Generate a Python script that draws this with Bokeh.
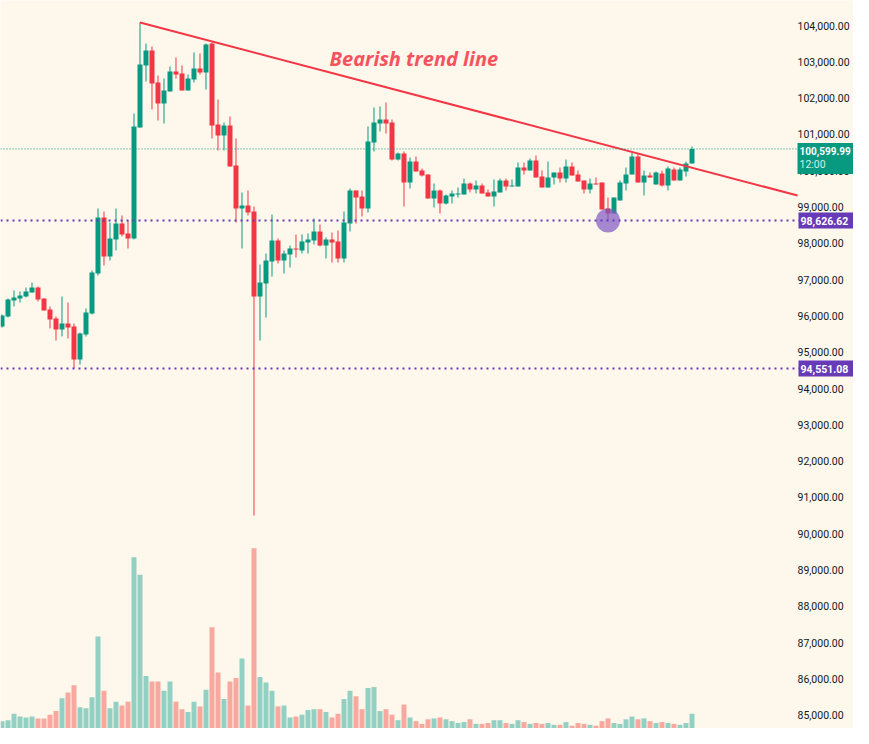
from bokeh.plotting import figure
from bokeh.models import Range1d, FixedTicker, NumeralTickFormatter, Label, Span, LinearAxis, BoxAnnotation
from bokeh.embed import file_html
from bokeh.resources import INLINE
from bokeh.core.properties import value

BG = "#FEF7EB"
UP = "#089981"
DOWN = "#F23645"
VOL_UP = "#92D0C3"
VOL_DOWN = "#F7A9A0"
PURPLE = "#673AB7"

opens = [
    95708, 95983, 96424, 96479, 96534, 96645, 96782, 96479, 96176, 95928,
    95625, 95791, 95708, 94799, 95488, 96066, 97168, 98711, 97637, 98105,
    98545, 98270, 98132, 101190, 102898, 103311, 102430, 101851, 102182, 102733,
    102678, 102209, 102513, 102816, 102705, 103504, 101273, 100970, 101245, 100143,
    98959, 99041, 98876, 96534, 96892, 97499, 98077, 97526, 97692, 97857,
    97802, 98022, 98077, 98325, 97939, 98105, 98050, 97581, 98545, 99455,
    99289, 98959, 100777, 101300, 101411, 101328, 100309, 100474, 99675, 100253,
    100005, 99895, 99234, 99455, 99096, 99289, 99344, 99344, 99647, 99482,
    99592, 99400, 99289, 99400, 99730, 99565, 99565, 100088, 100005, 100281,
    99840, 99537, 99813, 99950, 99785, 100116, 99895, 99730, 99482, 99647,
    99675, 98959, 98821, 99179, 99647, 99895, 100391, 99675, 99868, 99620,
    99923, 99592, 100033, 99730, 99978, 100198,
]
highs = [
    96038, 96479, 96700, 96672, 96782, 96920, 96810, 96479, 96259, 95983,
    96534, 96369, 95791, 95543, 96204, 97251, 98959, 98876, 98573, 98959,
    98766, 98627, 101576, 104083, 103504, 103421, 102623, 102540, 102871, 103118,
    102898, 102650, 103256, 103229, 103504, 103532, 101961, 101328, 101493, 100887,
    99400, 99455, 99014, 97416, 97719, 98793, 98132, 97802, 97939, 98242,
    98242, 98270, 98683, 98518, 98160, 98298, 98353, 98876, 99510, 99455,
    99455, 101218, 101741, 101769, 101878, 101411, 100501, 100529, 100364, 100391,
    100061, 99895, 99647, 99482, 99344, 99455, 99537, 99785, 99675, 99730,
    99647, 99482, 99758, 99785, 99785, 99758, 100226, 100226, 100336, 100419,
    100005, 100253, 99950, 100088, 100309, 100226, 100005, 99730, 99785, 99813,
    99675, 99262, 99262, 99730, 100088, 100501, 100474, 100005, 99950, 99978,
    100005, 100116, 100088, 100088, 100253, 100667,
]
lows = [
    95681, 95956, 96259, 96369, 96507, 96645, 96397, 96149, 95653, 95322,
    95433, 95377, 94551.08, 94661, 95433, 96038, 97113, 97388, 97526, 97802,
    98187, 97857, 98105, 101190, 102457, 101686, 101383, 101300, 102182, 102540,
    102209, 102209, 102430, 102650, 102237, 100887, 100557, 100557, 100116, 98573,
    97857, 98766, 90501, 95322, 95956, 97085, 97444, 97168, 97333, 97609,
    97719, 97719, 97967, 97912, 97581, 97471, 97471, 97471, 98325, 98545,
    98738, 98848, 100529, 101080, 101025, 100281, 100281, 99014, 99510, 99978,
    99840, 99234, 98986, 98821, 99069, 99096, 99262, 99344, 99400, 99372,
    99372, 99289, 99014, 99400, 99455, 99565, 99565, 99895, 100005, 99813,
    99537, 99537, 99620, 99675, 99675, 99868, 99703, 99372, 99372, 99620,
    98931, 98626.62, 98821, 99179, 99455, 99895, 99675, 99317, 99813, 99620,
    99565, 99455, 99730, 99730, 99840, 100198,
]
closes = [
    96011, 96452, 96507, 96562, 96672, 96782, 96452, 96149, 95901, 95625,
    95791, 95681, 94799, 95515, 96094, 97196, 98711, 97637, 98132, 98545,
    98242, 98132, 101218, 102926, 103311, 102402, 101851, 102209, 102733, 102650,
    102209, 102540, 102816, 102705, 103477, 101245, 100970, 101245, 100116, 98959,
    99041, 98848, 96534, 96920, 97526, 98077, 97526, 97719, 97857, 97829,
    98050, 98105, 98325, 97939, 98105, 98022, 97581, 98573, 99455, 99262,
    98959, 100804, 101328, 101411, 101300, 100309, 100474, 99675, 100253, 99978,
    99868, 99234, 99455, 99096, 99317, 99372, 99372, 99647, 99482, 99592,
    99372, 99289, 99427, 99730, 99565, 99592, 100088, 100005, 100281, 99813,
    99537, 99813, 99950, 99785, 100116, 99868, 99703, 99482, 99647, 99620,
    98931, 98821, 99262, 99675, 99895, 100391, 99675, 99868, 99813, 99950,
    99592, 100061, 99730, 100033, 100198, 100599.99,
]
volumes = [
    320, 360, 640, 520, 480, 520, 440, 440, 600, 760,
    1320, 1560, 1880, 920, 880, 1360, 4000, 1640, 880, 1160,
    1000, 1160, 7440, 6680, 2280, 2040, 2040, 1640, 2040, 1160,
    840, 720, 1160, 960, 1680, 4400, 2440, 1280, 2040, 2200,
    3040, 1000, 7840, 2240, 2000, 1640, 960, 1000, 480, 520,
    600, 800, 840, 840, 720, 480, 640, 1280, 1640, 1400,
    840, 1760, 1800, 760, 840, 600, 360, 1040, 480, 320,
    200, 400, 440, 480, 400, 320, 240, 280, 400, 200,
    200, 240, 360, 360, 240, 200, 360, 280, 200, 240,
    200, 240, 160, 160, 280, 120, 240, 200, 160, 120,
    320, 440, 240, 200, 400, 520, 400, 440, 320, 240,
    280, 240, 200, 160, 240, 640,
]
tick_values = [85000, 86000, 87000, 88000, 89000, 90000, 91000, 92000, 93000, 94000,
               95000, 96000, 97000, 98000, 99000, 100000, 101000, 102000, 103000, 104000]

last_price = 100599.99
last_time = "12:00"
support_level = 98626.62
low_level = 94551.08
trend_start = (23, 104083)
trend_end = (132.6, 99317)
trend_text = "Bearish trend line"
trend_text_pos = (54.6, 103080)
touch_point = (101, 98626.62)

W, H = 853, 728
Y0, Y1 = 84634, 104689
upp = (Y1 - Y0) / H  # price units per pixel

n = len(opens)
idx = list(range(n))
inc = [c >= o for o, c in zip(opens, closes)]
body_top = [max(o, c) for o, c in zip(opens, closes)]
body_bot = [min(o, c) for o, c in zip(opens, closes)]
ccol = [UP if u else DOWN for u in inc]
vcol = [VOL_UP if u else VOL_DOWN for u in inc]

p = figure(width=W, height=H,
           x_range=Range1d(-0.25, 141.92), y_range=Range1d(Y0, Y1),
           output_backend="svg", toolbar_location=None,
           x_axis_location=None, y_axis_location=None,
           background_fill_color=BG, border_fill_color=BG,
           outline_line_color=None, min_border=0)
p.grid.visible = False

p.extra_y_ranges = {"vol": Range1d(0, 31650)}
p.vbar(x=idx, width=0.83, top=volumes, bottom=0, y_range_name="vol",
       fill_color=vcol, line_color=None)

p.segment(x0=idx, y0=highs, x1=idx, y1=lows, line_color=ccol, line_width=1)
p.vbar(x=idx, width=0.83, top=body_top, bottom=body_bot, fill_color=ccol, line_color=None)

p.add_layout(Span(location=last_price, dimension="width", line_color=UP,
                  line_dash="1 2", line_width=1))
for lv in (support_level, low_level):
    p.add_layout(Span(location=lv, dimension="width", line_color=PURPLE,
                      line_dash="2 4", line_width=2))

p.segment(x0=[trend_start[0]], y0=[trend_start[1]], x1=[trend_end[0]], y1=[trend_end[1]],
          line_color=DOWN, line_width=2)
p.text(x=[trend_text_pos[0]], y=[trend_text_pos[1]], text=[trend_text],
       text_font=value("Open Sans"), text_font_style="bold italic",
       text_font_size="20px", text_color="#F4535E", text_baseline="middle")
p.scatter(x=[touch_point[0]], y=[touch_point[1]], size=24, fill_color="#7E57C2",
          fill_alpha=0.7, line_color=None)

ax = LinearAxis(fixed_location=132.42)
ax.ticker = FixedTicker(ticks=tick_values)
ax.formatter = NumeralTickFormatter(format="0,0.00")
ax.axis_line_color = None
ax.major_tick_line_color = None
ax.minor_tick_line_color = None
ax.major_tick_out = 0
ax.major_tick_in = 0
ax.minor_tick_out = 0
ax.minor_tick_in = 0
ax.major_label_standoff = 1
ax.major_label_text_font = "Roboto"
ax.major_label_text_font_size = "10.5px"
ax.major_label_text_color = "#131722"
p.add_layout(ax, "right")

TAG_X = 797
for lv in (support_level, low_level):
    p.add_layout(BoxAnnotation(left=TAG_X + 1, right=W, left_units="screen", right_units="screen",
                               top=lv + 8 * upp, bottom=lv - 8 * upp,
                               fill_color=PURPLE, fill_alpha=1, line_color=None))
    p.add_layout(Label(x=TAG_X + 3, y=lv, x_units="screen", text=f"{lv:,.2f}",
                       text_font="Roboto", text_font_size="10.5px", text_font_style="bold",
                       text_color="white", text_baseline="middle", text_align="left"))

p.add_layout(BoxAnnotation(left=TAG_X, right=W, left_units="screen", right_units="screen",
                           top=last_price + 6 * upp, bottom=last_price - 25 * upp,
                           fill_color=UP, fill_alpha=1, line_color=None))
p.add_layout(Label(x=TAG_X + 2, y=last_price, x_units="screen", y_offset=-2,
                   text=f"{last_price:,.2f}",
                   text_font="Roboto", text_font_size="10px", text_font_style="bold",
                   text_color="white", text_baseline="middle", text_align="left"))
p.add_layout(Label(x=TAG_X + 2, y=last_price, x_units="screen", y_offset=-16,
                   text=last_time,
                   text_font="Roboto", text_font_size="10.5px",
                   text_color="#D2EEE7", text_baseline="middle", text_align="left"))

open("out.html", "w").write(file_html(p, INLINE))
